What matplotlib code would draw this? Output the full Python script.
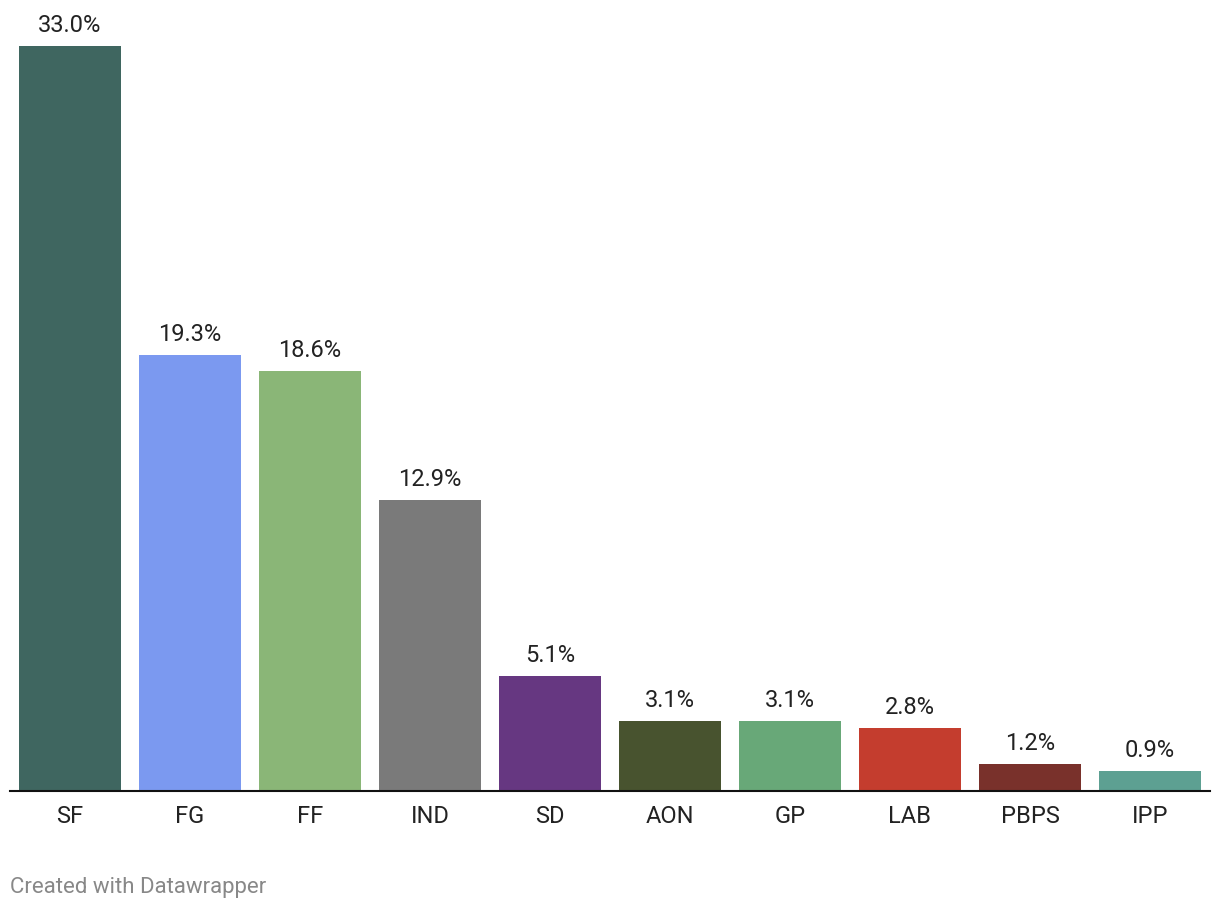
import matplotlib
matplotlib.use("Agg")
import matplotlib.pyplot as plt

parties = ["SF", "FG", "FF", "IND", "SD", "AON", "GP", "LAB", "PBPS", "IPP"]
values = [33.0, 19.3, 18.6, 12.9, 5.1, 3.1, 3.1, 2.8, 1.2, 0.9]
colors = ["#3f6660", "#7b99f0", "#8ab677", "#7a7a7a", "#663781",
          "#48532f", "#68a878", "#c43d2e", "#79312b", "#5da092"]

plt.rcParams['font.family'] = ['Roboto', 'DejaVu Sans']

W, H = 1220, 912
fig = plt.figure(figsize=(W / 100, H / 100), dpi=100)
ax = fig.add_axes([10 / W, (H - 792) / H, 1200 / W, 745 / H])

x = list(range(len(parties)))
ax.bar(x, values, width=0.85, color=colors, zorder=2)
ax.set_xlim(-0.5, len(parties) - 0.5)
ax.set_ylim(0, 33.0)

for xi, v in zip(x, values):
    ax.annotate(f"{v:.1f}%", (xi, v), xytext=(0, 10), textcoords="offset pixels",
                ha="center", va="bottom", fontsize=17, color="#222222",
                annotation_clip=False)

ax.set_xticks(x)
ax.set_xticklabels(parties, fontsize=17, color="#222222")
ax.tick_params(axis="x", length=0, pad=9.5)
ax.set_yticks([])
for s in ["top", "right", "left"]:
    ax.spines[s].set_visible(False)
ax.spines["bottom"].set_color("#111111")
ax.spines["bottom"].set_linewidth(1.5)
ax.spines["bottom"].set_zorder(3)

fig.text(10 / W, 1 - 888 / H, "Created with Datawrapper", fontsize=16,
         color="#888888", ha="left", va="center")

fig.savefig("out.png", dpi=100)
